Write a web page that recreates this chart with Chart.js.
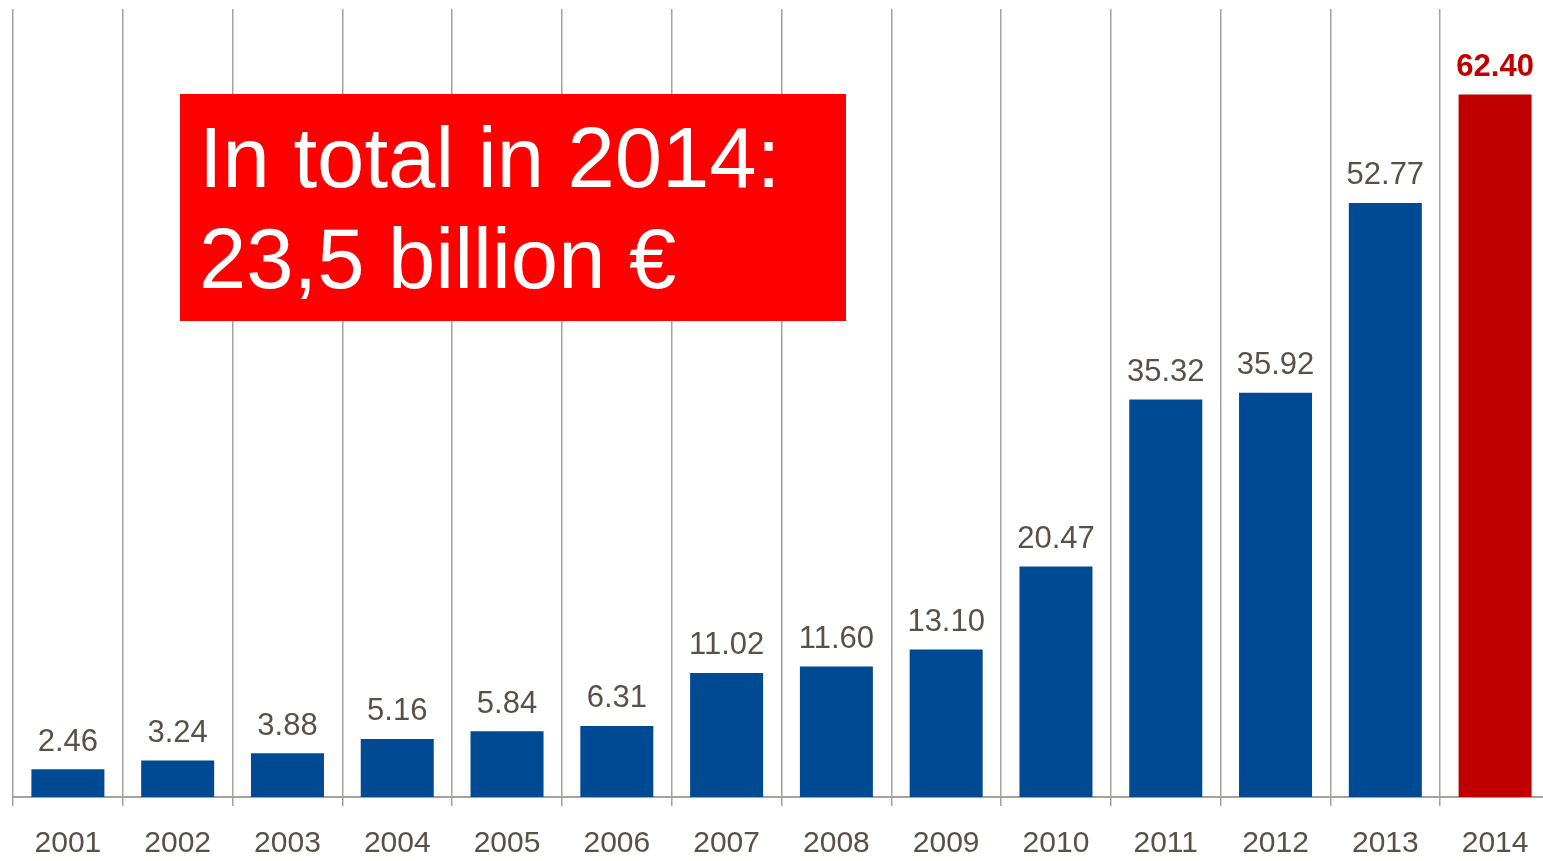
<!DOCTYPE html>
<html>
<head>
<meta charset="utf-8">
<script src="https://cdn.jsdelivr.net/npm/chart.js@4.4.1/dist/chart.umd.min.js"></script>
<style>
  html, body { margin: 0; padding: 0; background: #ffffff; overflow: hidden; width: 1543px; height: 861px; }
  #wrap { position: absolute; left: 0; top: 0; width: 1560px; height: 882px; }
  #total {
    position: absolute; left: 180px; top: 94px; width: 666px; height: 227px;
    background: #ff0000; color: #ffffff;
    font-family: "Liberation Sans", Arial, sans-serif; font-size: 85px; line-height: 101px;
    box-sizing: border-box; padding: 13px 0 0 19px; white-space: nowrap;
  }
</style>
</head>
<body>
<div id="wrap"><canvas id="c" width="1560" height="882"></canvas></div>
<div id="total">In total in 2014:<br>23,5 billion €</div>
<script>
const years = ['2001','2002','2003','2004','2005','2006','2007','2008','2009','2010','2011','2012','2013','2014'];
const values = [2.46, 3.24, 3.88, 5.16, 5.84, 6.31, 11.02, 11.60, 13.10, 20.47, 35.32, 35.92, 52.77, 62.40];
const highlightYear = '2014';

const BLUE = '#004a93';
const DARK_RED = '#c00000';
const TEXT = '#595048';
const GRID = '#a5a19c';
const FONT = '"Liberation Sans", Arial, sans-serif';

const barColors = years.map(y => y === highlightYear ? DARK_RED : BLUE);

// value labels above each bar
const valueLabels = {
  id: 'valueLabels',
  afterDatasetsDraw(chart) {
    const ctx = chart.ctx;
    const meta = chart.getDatasetMeta(0);
    ctx.save();
    ctx.textAlign = 'center';
    ctx.textBaseline = 'alphabetic';
    meta.data.forEach((bar, i) => {
      const hi = years[i] === highlightYear;
      ctx.font = (hi ? 'bold 31px ' : '31px ') + FONT;
      ctx.fillStyle = hi ? DARK_RED : TEXT;
      ctx.fillText(values[i].toFixed(2), bar.x, bar.y - 18.5);
    });
    ctx.restore();
  }
};

new Chart(document.getElementById('c'), {
  type: 'bar',
  data: {
    labels: years,
    datasets: [{
      data: values,
      backgroundColor: barColors,
      borderWidth: 0,
      categoryPercentage: 1,
      barPercentage: 0.665
    }]
  },
  options: {
    responsive: false,
    animation: false,
    devicePixelRatio: 1,
    layout: { padding: { left: 13, right: 10, top: 9, bottom: 0 } },
    plugins: { legend: { display: false }, tooltip: { enabled: false } },
    scales: {
      x: {
        offset: true,
        grid: { display: true, offset: true, color: GRID, lineWidth: 1.5, tickLength: 9, drawOnChartArea: true },
        border: { display: true, color: GRID, width: 2 },
        ticks: { color: TEXT, font: { family: FONT, size: 30 }, padding: 20, maxRotation: 0, autoSkip: false }
      },
      y: {
        display: false,
        min: 0,
        max: 70
      }
    }
  },
  plugins: [valueLabels]
});
</script>
</body>
</html>
